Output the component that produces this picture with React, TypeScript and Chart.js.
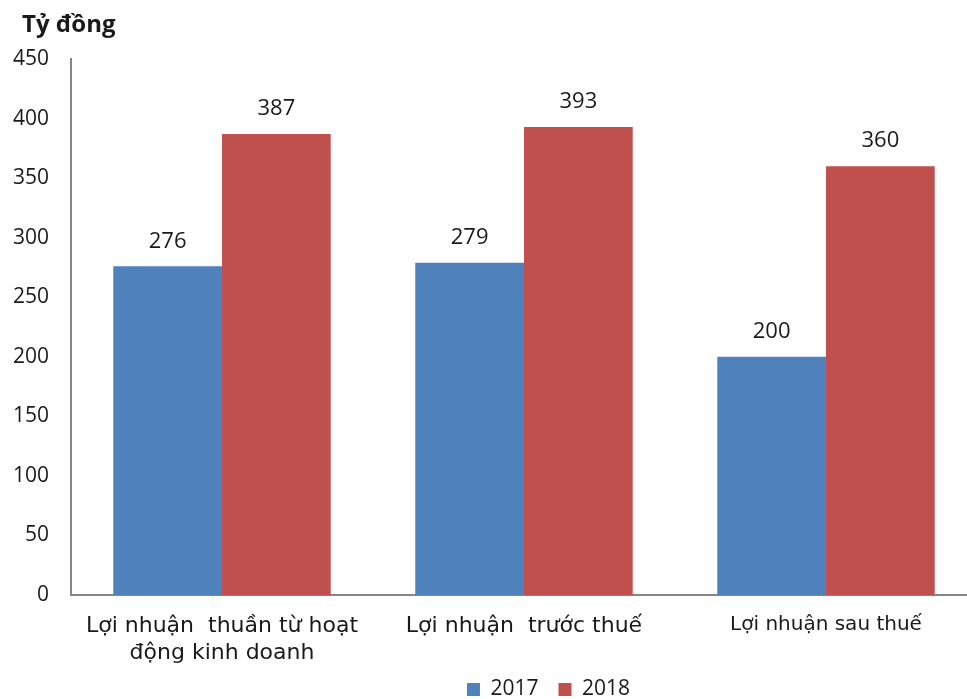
import React, { useEffect, useRef } from "react";
import { Chart, registerables } from "chart.js";

Chart.register(...registerables);

const unitLabel = "Tỷ đồng";
const categories: (string | string[])[] = [
  ["Lợi nhuận  thuần từ hoạt", "động kinh doanh"],
  "Lợi nhuận  trước thuế",
  "Lợi nhuận sau thuế",
];
const seriesNames = ["2017", "2018"];
const values2017 = [276, 279, 200];
const values2018 = [387, 393, 360];
const yMin = 0;
const yMax = 450;
const yStep = 50;

const FONT = "'Open Sans', 'Noto Sans', sans-serif";
const LABEL_FONT = "'DejaVu Sans', Verdana, sans-serif";
const TEXT = "#1a1a1a";
const AXIS = "#868686";

export default function App() {
  const ref = useRef<HTMLCanvasElement | null>(null);

  useEffect(() => {
    if (!ref.current) return;
    const labelPlugin = {
      id: "valueLabels",
      afterLayout(chart: any) {
        const lg = chart.legend;
        if (lg) {
          lg.left += 60;
          lg.right += 60;
          lg.top -= 9;
          lg.bottom -= 9;
        }
      },
      afterDatasetsDraw(chart: any) {
        const ctx = chart.ctx;
        ctx.save();
        ctx.font = `22px ${FONT}`;
        ctx.fillStyle = TEXT;
        ctx.textAlign = "center";
        ctx.textBaseline = "middle";
        chart.data.datasets.forEach((ds: any, i: number) => {
          const meta = chart.getDatasetMeta(i);
          meta.data.forEach((bar: any, j: number) => {
            ctx.fillText(String(ds.data[j]), bar.x, bar.y - 25);
          });
        });
        // unit title
        ctx.font = `bold 24px ${FONT}`;
        ctx.textAlign = "left";
        ctx.fillText(unitLabel, 22, 25);
        ctx.restore();
      },
    };

    const chart = new Chart(ref.current, {
      type: "bar",
      data: {
        labels: categories,
        datasets: [
          {
            label: seriesNames[0],
            data: values2017,
            backgroundColor: "#4F81BD",
            borderWidth: 0,
          },
          {
            label: seriesNames[1],
            data: values2018,
            backgroundColor: "#C0504D",
            borderWidth: 0,
          },
        ],
      },
      options: {
        responsive: false,
        animation: false,
        layout: { padding: { top: 59, right: 115, left: 0, bottom: -20 } },
        datasets: {
          bar: { categoryPercentage: 0.72, barPercentage: 1 },
        },
        plugins: {
          legend: {
            position: "bottom",
            labels: {
              boxWidth: 13,
              boxHeight: 13,
              padding: 20,
              color: TEXT,
              font: { family: FONT, size: 21 },
            },
          },
          tooltip: { enabled: false },
          title: { display: false },
        },
        scales: {
          x: {
            grid: { display: false, drawTicks: false },
            border: { display: true, color: AXIS, width: 2 },
            ticks: {
              color: TEXT,
              padding: 18,
              maxRotation: 0,
              autoSkip: false,
              font: (c: any) => ({
                family: LABEL_FONT,
                size: c.index === 2 ? 20 : 22,
                lineHeight: 1.22,
              }),
            },
            afterFit: (s: any) => {
              s.height = 73;
            },
          },
          y: {
            min: yMin,
            max: yMax,
            grid: { display: false, drawTicks: false },
            border: { display: true, color: AXIS, width: 2 },
            ticks: {
              stepSize: yStep,
              color: TEXT,
              padding: 22,
              font: { family: FONT, size: 21 },
            },
            afterFit: (s: any) => {
              s.width = 71;
            },
          },
        },
      },
      plugins: [labelPlugin],
    });
    return () => chart.destroy();
  }, []);

  return (
    <div
      style={{
        position: "fixed",
        left: 0,
        top: 0,
        width: 967,
        height: 699,
        overflow: "hidden",
        background: "#fff",
      }}
    >
      <canvas ref={ref} width={1092} height={699} style={{ display: "block" }} />
    </div>
  );
}
